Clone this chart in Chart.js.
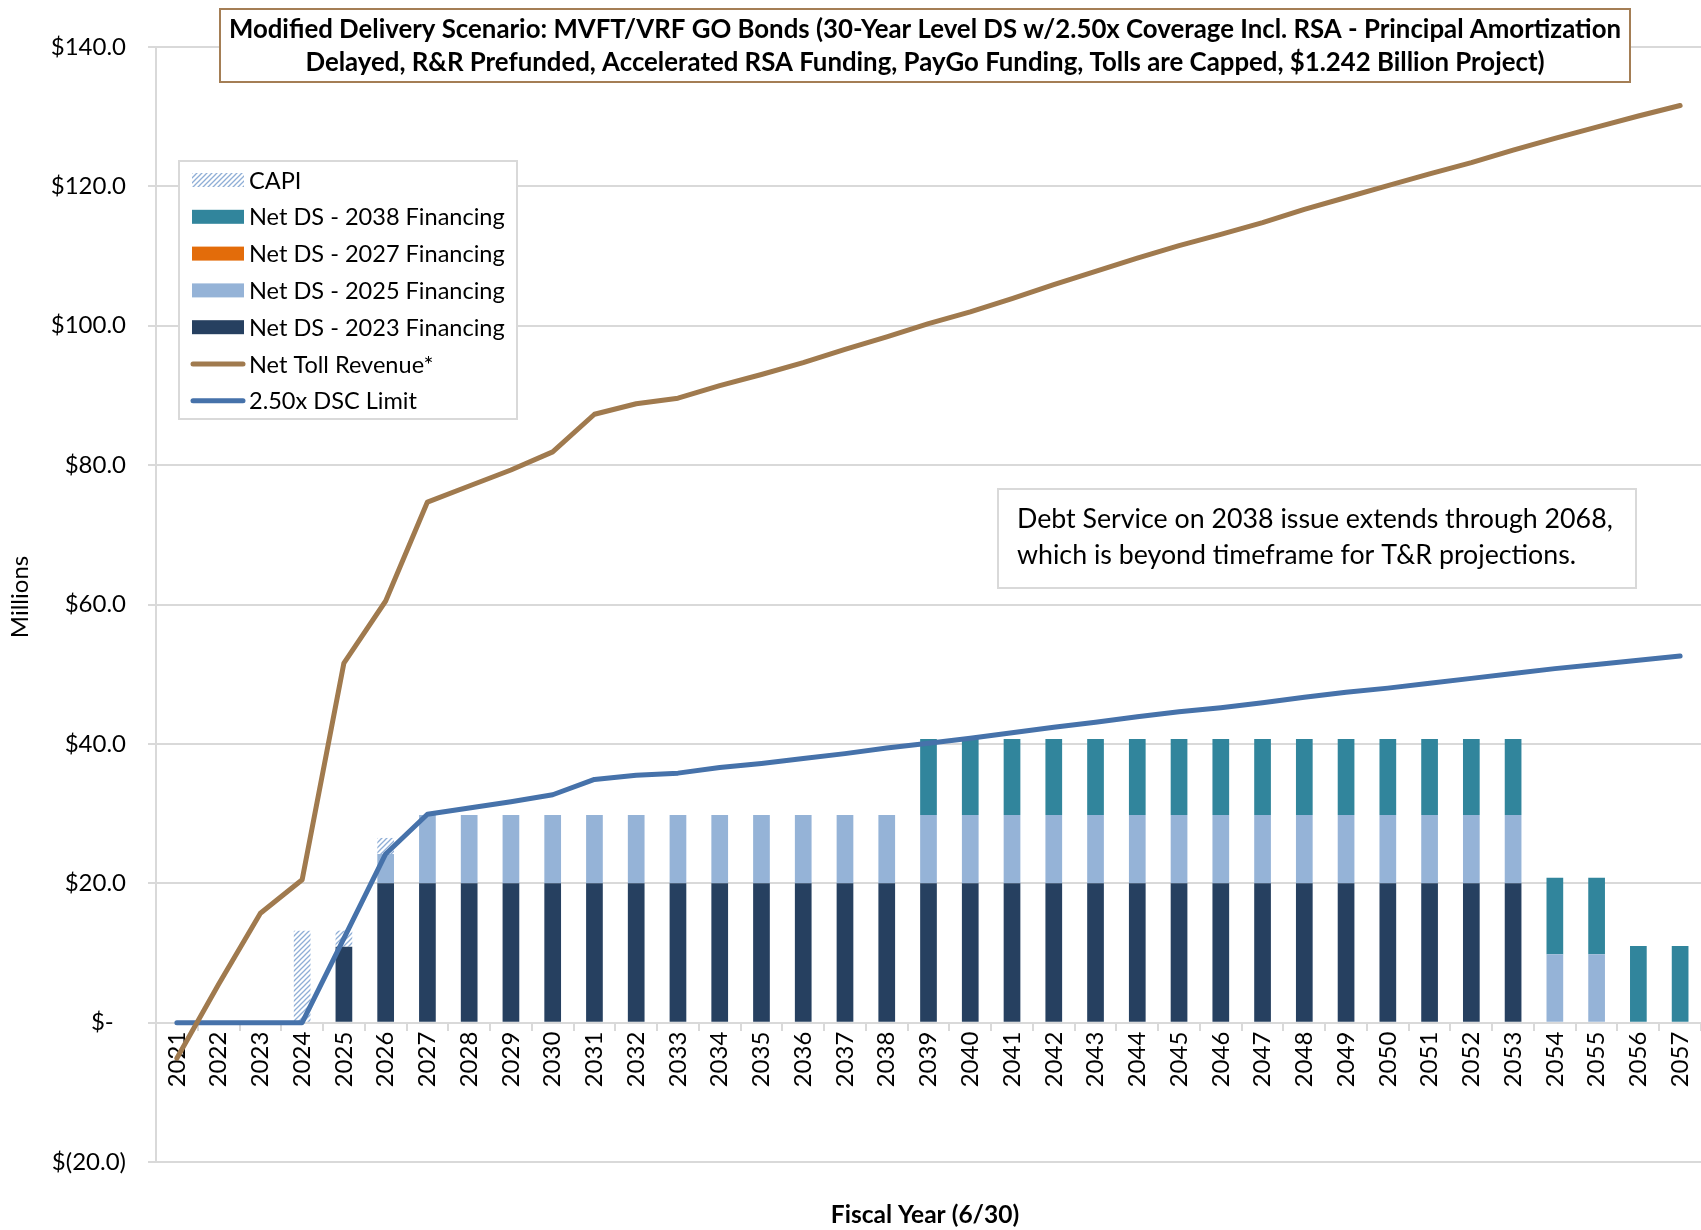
<!DOCTYPE html>
<html>
<head>
<meta charset="utf-8">
<title>Modified Delivery Scenario - MVFT/VRF GO Bonds</title>
<script src="https://cdn.jsdelivr.net/npm/chart.js@4.4.1/dist/chart.umd.min.js"></script>
<style>
  html, body { margin: 0; padding: 0; background: #fff; }
  #wrap { width: 1701px; height: 1230px; }
</style>
</head>
<body>
<div id="wrap"><canvas id="chart" width="1701" height="1230"></canvas></div>
<script>
const years = ['2021', '2022', '2023', '2024', '2025', '2026', '2027', '2028', '2029', '2030',
    '2031', '2032', '2033', '2034', '2035', '2036', '2037', '2038', '2039', '2040',
    '2041', '2042', '2043', '2044', '2045', '2046', '2047', '2048', '2049', '2050',
    '2051', '2052', '2053', '2054', '2055', '2056', '2057'];

// $ millions
const capi = [0, 0, 0, 13.2, 2.3, 2.3, 0, 0, 0, 0,
    0, 0, 0, 0, 0, 0, 0, 0, 0, 0,
    0, 0, 0, 0, 0, 0, 0, 0, 0, 0,
    0, 0, 0, 0, 0, 0, 0];
const ds2038 = [0, 0, 0, 0, 0, 0, 0, 0, 0, 0,
    0, 0, 0, 0, 0, 0, 0, 0, 10.9, 10.9,
    10.9, 10.9, 10.9, 10.9, 10.9, 10.9, 10.9, 10.9, 10.9, 10.9,
    10.9, 10.9, 10.9, 11.0, 11.0, 11.0, 11.0];
const ds2027 = [0, 0, 0, 0, 0, 0, 0, 0, 0, 0,
    0, 0, 0, 0, 0, 0, 0, 0, 0, 0,
    0, 0, 0, 0, 0, 0, 0, 0, 0, 0,
    0, 0, 0, 0, 0, 0, 0];
const ds2025 = [0, 0, 0, 0, 0, 4.2, 9.8, 9.8, 9.8, 9.8,
    9.8, 9.8, 9.8, 9.8, 9.8, 9.8, 9.8, 9.8, 9.8, 9.8,
    9.8, 9.8, 9.8, 9.8, 9.8, 9.8, 9.8, 9.8, 9.8, 9.8,
    9.8, 9.8, 9.8, 9.8, 9.8, 0, 0];
const ds2023 = [0, 0, 0, 0, 10.9, 20.0, 20.0, 20.0, 20.0, 20.0,
    20.0, 20.0, 20.0, 20.0, 20.0, 20.0, 20.0, 20.0, 20.0, 20.0,
    20.0, 20.0, 20.0, 20.0, 20.0, 20.0, 20.0, 20.0, 20.0, 20.0,
    20.0, 20.0, 20.0, 0, 0, 0, 0];
const tollRevenue = [-5.1, 5.5, 15.7, 20.5, 51.6, 60.5, 74.7, 77.0, 79.3, 81.9,
    87.3, 88.8, 89.6, 91.4, 93.0, 94.7, 96.6, 98.4, 100.3, 102.0,
    103.9, 105.9, 107.8, 109.7, 111.5, 113.1, 114.8, 116.7, 118.4, 120.1,
    121.8, 123.4, 125.2, 126.9, 128.5, 130.1, 131.6];
const dscLimit = [0, 0, 0, 0, 12.1, 24.2, 29.9, 30.8, 31.7, 32.7,
    34.9, 35.5, 35.8, 36.6, 37.2, 37.9, 38.6, 39.4, 40.1, 40.8,
    41.6, 42.4, 43.1, 43.9, 44.6, 45.2, 45.9, 46.7, 47.4, 48.0,
    48.7, 49.4, 50.1, 50.8, 51.4, 52.0, 52.6];

const titleLines = [
    'Modified Delivery Scenario: MVFT/VRF GO Bonds (30-Year Level DS w/2.50x Coverage Incl. RSA - Principal Amortization',
    'Delayed, R&R Prefunded, Accelerated RSA Funding, PayGo Funding, Tolls are Capped, $1.242 Billion Project)'
];
const noteLines = [
    'Debt Service on 2038 issue extends through 2068,',
    'which is beyond timeframe for T&R projections.'
];

const FONT = 'Lato, "Open Sans", sans-serif';
const GRID = '#D9D9D9';

// hatched fill for CAPI
function makeHatch() {
    const tile = document.createElement('canvas');
    tile.width = 5;
    tile.height = 5;
    const g = tile.getContext('2d');
    g.strokeStyle = '#8FAED6';
    g.lineWidth = 1.3;
    g.beginPath();
    g.moveTo(-1, 6); g.lineTo(6, -1);
    g.moveTo(-3, 3); g.lineTo(3, -3);
    g.moveTo(2, 8); g.lineTo(8, 2);
    g.stroke();
    return document.getElementById('chart').getContext('2d').createPattern(tile, 'repeat');
}
const hatch = makeHatch();

function yLabel(v) {
    if (v === 0) return '$-  ';
    if (v < 0) return '$(' + Math.abs(v).toFixed(1) + ')';
    return '$' + v.toFixed(1);
}

function fitSize(ctx, text, weight, maxSize, width) {
    ctx.font = `${weight} ${maxSize}px ${FONT}`;
    const w = ctx.measureText(text).width;
    return w > width ? maxSize * width / w : maxSize;
}

// legend, title and note are drawn by hand so they can sit inside the plot
const legendOrder = ['CAPI', 'Net DS - 2038 Financing', 'Net DS - 2027 Financing',
    'Net DS - 2025 Financing', 'Net DS - 2023 Financing', 'Net Toll Revenue*', '2.50x DSC Limit'];

const decorations = {
    id: 'decorations',
    afterDraw(chart) {
        const ctx = chart.ctx;
        ctx.save();

        // title box
        ctx.fillStyle = '#fff';
        ctx.fillRect(220, 9, 1410, 73);
        ctx.strokeStyle = '#A47E55';
        ctx.lineWidth = 2;
        ctx.strokeRect(220, 9, 1410, 73);
        const ts = Math.min(fitSize(ctx, titleLines[0], 'bold', 26, 1393), fitSize(ctx, titleLines[1], 'bold', 26, 1256));
        ctx.font = `bold ${ts}px ${FONT}`;
        ctx.fillStyle = '#000';
        ctx.textAlign = 'center';
        ctx.textBaseline = 'middle';
        ctx.fillText(titleLines[0], 925, 30);
        ctx.fillText(titleLines[1], 925, 63);

        // legend
        ctx.fillStyle = '#fff';
        ctx.fillRect(179, 161, 338, 258);
        ctx.strokeStyle = GRID;
        ctx.lineWidth = 2;
        ctx.strokeRect(179, 161, 338, 258);
        const ls = fitSize(ctx, 'Net DS - 2038 Financing', 'normal', 26, 256);
        ctx.font = `${ls}px ${FONT}`;
        ctx.textAlign = 'left';
        legendOrder.forEach((label, i) => {
            const ds = chart.data.datasets.find(d => d.label === label);
            const y = 180 + i * 36.8;
            if (ds.type === 'line') {
                ctx.strokeStyle = ds.borderColor;
                ctx.lineWidth = 5;
                ctx.lineCap = 'round';
                ctx.beginPath();
                ctx.moveTo(193, y);
                ctx.lineTo(243, y);
                ctx.stroke();
            } else {
                ctx.fillStyle = ds.backgroundColor;
                ctx.fillRect(192, y - 7, 52, 14);
            }
            ctx.fillStyle = '#000';
            ctx.fillText(label, 249, y + 1);
        });

        // note box
        ctx.fillStyle = '#fff';
        ctx.fillRect(998, 489, 638, 99);
        ctx.strokeStyle = GRID;
        ctx.lineWidth = 2;
        ctx.strokeRect(998, 489, 638, 99);
        const ns = fitSize(ctx, noteLines[0], 'normal', 30, 596);
        ctx.font = `${ns}px ${FONT}`;
        ctx.fillStyle = '#000';
        ctx.fillText(noteLines[0], 1017, 519);
        ctx.fillText(noteLines[1], 1017, 555);

        // axis titles
        ctx.font = `24px ${FONT}`;
        ctx.textAlign = 'center';
        ctx.save();
        ctx.translate(20, 597);
        ctx.rotate(-Math.PI / 2);
        ctx.fillText('Millions', 0, 0);
        ctx.restore();
        ctx.font = `bold 24.5px ${FONT}`;
        ctx.fillText('Fiscal Year (6/30)', 925, 1215);

        ctx.restore();
    }
};

const barBase = { type: 'bar', stack: 'ds', order: 1, borderWidth: 0, barPercentage: 0.4, categoryPercentage: 1.0 };
const lineBase = { type: 'line', order: 0, borderWidth: 5, pointRadius: 0, tension: 0,
    borderCapStyle: 'round', borderJoinStyle: 'round', fill: false };

new Chart(document.getElementById('chart'), {
    data: {
        labels: years,
        datasets: [
            { ...lineBase, label: 'Net Toll Revenue*', stack: 'toll', data: tollRevenue, borderColor: '#A07A4E' },
            { ...lineBase, label: '2.50x DSC Limit', stack: 'dsc', data: dscLimit, borderColor: '#4672AA' },
            { ...barBase, label: 'Net DS - 2023 Financing', data: ds2023, backgroundColor: '#264060' },
            { ...barBase, label: 'Net DS - 2025 Financing', data: ds2025, backgroundColor: '#95B3D7' },
            { ...barBase, label: 'Net DS - 2027 Financing', data: ds2027, backgroundColor: '#E36C0A' },
            { ...barBase, label: 'Net DS - 2038 Financing', data: ds2038, backgroundColor: '#31859C' },
            { ...barBase, label: 'CAPI', data: capi, backgroundColor: hatch }
        ]
    },
    options: {
        responsive: false,
        animation: false,
        devicePixelRatio: 1,
        layout: { padding: { left: 0, top: 47, right: 0, bottom: 68 } },
        plugins: {
            legend: { display: false },
            tooltip: { enabled: false },
            title: { display: false }
        },
        scales: {
            x: {
                stacked: true,
                position: { y: 0 },
                offset: true,
                grid: { drawOnChartArea: false, drawTicks: true, tickLength: 7, color: GRID, lineWidth: 2, offset: true },
                border: { display: true, color: GRID, width: 2 },
                ticks: { autoSkip: false, maxRotation: 90, minRotation: 90, padding: 2, color: '#000',
                    font: { family: FONT, size: 24 } },
                afterFit: s => { s.height = 0; s.paddingLeft = 0; s.paddingRight = 0; }
            },
            y: {
                stacked: true,
                min: -20,
                max: 140,
                ticks: { stepSize: 20, padding: 22, color: '#000', font: { family: FONT, size: 24 }, callback: yLabel },
                grid: { color: GRID, lineWidth: 2, tickLength: 8 },
                border: { color: GRID, width: 2 },
                afterFit: s => { s.width = 156; }
            }
        }
    },
    plugins: [decorations]
});
</script>
</body>
</html>
